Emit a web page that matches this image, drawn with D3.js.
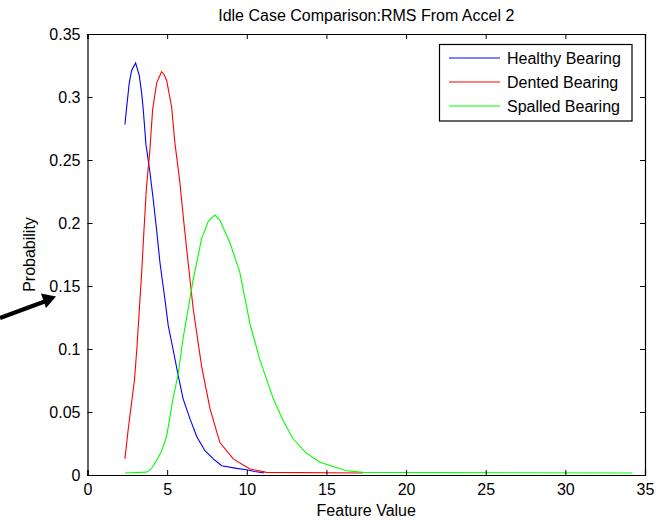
<!DOCTYPE html>
<html>
<head>
<meta charset="utf-8">
<script src="https://cdn.jsdelivr.net/npm/d3@7"></script>
<style>
  html, body { margin: 0; padding: 0; background: #ffffff; }
  svg { display: block; font-family: "Liberation Sans", Arial, sans-serif; }
</style>
</head>
<body>
<svg id="chart" width="664" height="520"></svg>
<script>
// ---- data ----
const chartTitle = "Idle Case Comparison:RMS From Accel 2";
const xLabel = "Feature Value";
const yLabel = "Probability";

const xTicks = [0, 5, 10, 15, 20, 25, 30, 35];
const yTicks = [0, 0.05, 0.1, 0.15, 0.2, 0.25, 0.3, 0.35];
const yTickLabels = ["0", "0.05", "0.1", "0.15", "0.2", "0.25", "0.3", "0.35"];

const seriesNames = ["Healthy Bearing", "Dented Bearing", "Spalled Bearing"];
const seriesColors = ["#0000ff", "#ff0000", "#00ff00"];

const healthyX = [2.35, 2.46, 2.62, 2.77, 3.02, 3.25, 3.4, 3.5, 3.67, 3.92, 4.13, 4.34, 4.55, 4.86, 5.07, 5.28, 5.7, 6.0, 6.43, 6.85, 7.37, 7.9, 8.42, 9.36, 9.98, 10.5, 11.1];
const healthyY = [0.278, 0.292, 0.311, 0.321, 0.327, 0.317, 0.303, 0.290, 0.262, 0.240, 0.218, 0.194, 0.168, 0.139, 0.118, 0.105, 0.078, 0.060, 0.044, 0.030, 0.0185, 0.012, 0.0066, 0.0045, 0.0034, 0.002, 0.0008];

const dentedX = [2.35, 2.55, 2.75, 2.95, 3.1, 3.25, 3.4, 3.55, 3.7, 3.9, 4.09, 4.34, 4.65, 4.8, 4.97, 5.28, 5.49, 5.8, 6.05, 6.32, 6.64, 7.16, 7.69, 8.31, 9.15, 10.2, 11.24, 17.3];
const dentedY = [0.012, 0.035, 0.055, 0.075, 0.100, 0.130, 0.160, 0.195, 0.228, 0.255, 0.290, 0.311, 0.320, 0.318, 0.313, 0.292, 0.263, 0.232, 0.200, 0.168, 0.131, 0.086, 0.052, 0.025, 0.012, 0.004, 0.0013, 0.0008];

const spalledX = [2.35, 3.7, 4.0, 4.34, 4.65, 4.97, 5.34, 5.7, 6.0, 6.3, 6.64, 7.16, 7.58, 8.0, 8.31, 8.94, 9.57, 10.19, 10.82, 11.66, 12.3, 12.91, 13.7, 14.59, 16.26, 17.3, 34.2];
const spalledY = [0.0008, 0.0015, 0.004, 0.011, 0.018, 0.030, 0.058, 0.080, 0.108, 0.130, 0.155, 0.187, 0.201, 0.206, 0.202, 0.184, 0.160, 0.120, 0.091, 0.060, 0.042, 0.028, 0.017, 0.0093, 0.0026, 0.0013, 0.0008];

const seriesX = [healthyX, dentedX, spalledX];
const seriesY = [healthyY, dentedY, spalledY];

// ---- layout ----
const svg = d3.select("#chart");
const plotL = 87.5, plotR = 645, plotT = 34, plotB = 475;

const x = d3.scaleLinear().domain([0, 35]).range([plotL, plotR]);
const y = d3.scaleLinear().domain([0, 0.35]).range([plotB - 1, plotT]);

// series lines
const line = d3.line().x(d => x(d[0])).y(d => y(d[1]));
seriesX.forEach((xs, i) => {
  const pts = xs.map((v, j) => [v, seriesY[i][j]]);
  svg.append("path").datum(pts)
    .attr("d", line)
    .attr("fill", "none")
    .attr("stroke", seriesColors[i])
    .attr("stroke-width", 1.1);
});

// axes frame
const tickLen = 5;
const yAxisScale = d3.scaleLinear().domain([0, 0.35]).range([plotB, plotT]);
const axB = svg.append("g").attr("transform", `translate(0,${plotB})`)
  .call(d3.axisBottom(x).tickValues(xTicks).tickSize(-tickLen).tickPadding(9).tickFormat(d3.format("d")));
const axT = svg.append("g").attr("transform", `translate(0,${plotT})`)
  .call(d3.axisTop(x).tickValues(xTicks).tickSize(-tickLen).tickFormat(""));
const axL = svg.append("g").attr("transform", `translate(${plotL},0)`)
  .call(d3.axisLeft(yAxisScale).tickValues(yTicks).tickSize(-tickLen).tickPadding(7)
    .tickFormat((d, i) => yTickLabels[i]));
const axR = svg.append("g").attr("transform", `translate(${plotR},0)`)
  .call(d3.axisRight(yAxisScale).tickValues(yTicks).tickSize(-tickLen).tickFormat(""));

[axB, axT, axL, axR].forEach(g => {
  g.selectAll("path.domain").attr("stroke", "#000").attr("stroke-width", 1.2);
  g.selectAll(".tick line").attr("stroke", "#000").attr("stroke-width", 1);
  g.selectAll("text").attr("fill", "#000").style("font-size", "16px")
    .style("font-family", "'Liberation Sans', Arial, sans-serif");
});

// titles
svg.append("text").attr("x", (plotL + plotR) / 2).attr("y", 21)
  .attr("text-anchor", "middle").style("font-size", "16px").attr("fill", "#000")
  .text(chartTitle);
svg.append("text").attr("x", (plotL + plotR) / 2).attr("y", 516)
  .attr("text-anchor", "middle").style("font-size", "16px").attr("fill", "#000")
  .text(xLabel);
svg.append("text").attr("transform", `translate(35,${(plotT + plotB) / 2}) rotate(-90)`)
  .attr("text-anchor", "middle").style("font-size", "16px").attr("fill", "#000")
  .text(yLabel);

// legend
const lg = svg.append("g");
lg.append("rect").attr("x", 439.5).attr("y", 44.5).attr("width", 192.5).attr("height", 76.5)
  .attr("fill", "#ffffff").attr("stroke", "#000").attr("stroke-width", 1.2);
seriesNames.forEach((name, i) => {
  const yy = 58 + i * 24;
  lg.append("line").attr("x1", 449).attr("x2", 500).attr("y1", yy).attr("y2", yy)
    .attr("stroke", seriesColors[i]).attr("stroke-width", 1.1);
  lg.append("text").attr("x", 507).attr("y", yy + 6)
    .style("font-size", "16px").attr("fill", "#000").text(name);
});

// annotation arrow
svg.append("line").attr("x1", 0).attr("y1", 318).attr("x2", 46).attr("y2", 301)
  .attr("stroke", "#000").attr("stroke-width", 4);
svg.append("path").attr("d", "M56,296.5 L41,293.5 L46,308 Z").attr("fill", "#000");
</script>
</body>
</html>
